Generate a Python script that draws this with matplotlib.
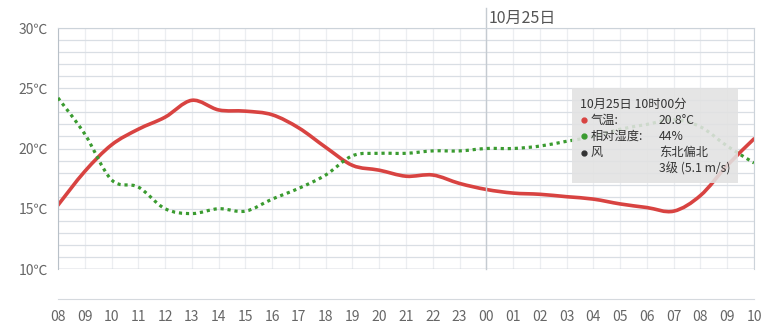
import matplotlib
matplotlib.use("Agg")
import matplotlib.pyplot as plt
from matplotlib.path import Path
from matplotlib.patches import PathPatch, Rectangle

plt.rcParams['font.family'] = ['Noto Sans CJK SC', 'DejaVu Sans']

hours = ["08", "09", "10", "11", "12", "13", "14", "15", "16", "17", "18", "19", "20",
         "21", "22", "23", "00", "01", "02", "03", "04", "05", "06", "07", "08", "09", "10"]
temp = [15.3, 18.1, 20.3, 21.6, 22.6, 24.0, 23.2, 23.1, 22.8, 21.7, 20.1, 18.6, 18.2,
        17.7, 17.8, 17.1, 16.6, 16.3, 16.2, 16.0, 15.8, 15.4, 15.1, 14.8, 16.1, 18.6, 20.8]
humidity = [71, 56, 37, 34, 25, 23, 25, 24, 29, 33.5, 39, 47, 48,
            48, 49, 49, 50, 50, 51, 53, 55, 58, 60, 62, 59, 51, 44]
y_ticks = [10, 15, 20, 25, 30]
day_label = "10月25日"
day_index = 16

tip_title = "10月25日 10时00分"
tip_rows = [("气温:", "20.8°C", "#d84341"),
            ("相对湿度:", "44%", "#3a9b30"),
            ("风", "东北偏北", "#333333"),
            ("", "3级 (5.1 m/s)", None)]


def spline(xs, ys):
    # cubic bezier through every point, catmull-rom style
    n = len(xs)
    verts = [(xs[0], ys[0])]
    codes = [Path.MOVETO]
    for i in range(n - 1):
        a, b = max(i - 1, 0), min(i + 2, n - 1)
        c1 = (xs[i] + (xs[i + 1] - xs[a]) / 6, ys[i] + (ys[i + 1] - ys[a]) / 6)
        c2 = (xs[i + 1] - (xs[b] - xs[i]) / 6, ys[i + 1] - (ys[b] - ys[i]) / 6)
        verts += [c1, c2, (xs[i + 1], ys[i + 1])]
        codes += [Path.CURVE4] * 3
    return Path(verts, codes)


fig = plt.figure(figsize=(7.72, 3.28), dpi=100)
ax = fig.add_axes([58 / 772, 59 / 328, 696 / 772, 241 / 328])
x = list(range(len(hours)))

ax.set_xlim(0, len(hours) - 1)
ax.set_ylim(10, 30)
ax.set_xticks(x)
ax.set_xticklabels(hours)
ax.set_yticks(y_ticks)
ax.set_yticklabels([f"{v}℃" for v in y_ticks])
ax.set_yticks(range(10, 31), minor=True)
ax.tick_params(length=0, colors="#666666", labelsize=10)
ax.tick_params(axis="y", pad=7)
ax.tick_params(axis="x", pad=8)
ax.tick_params(which="minor", length=0)

ax.grid(axis="y", which="both", color="#d9dee4", lw=0.9)
ax.grid(axis="x", color="#eceef1", lw=0.9)
ax.set_axisbelow(True)
for s in ["top", "right", "left"]:
    ax.spines[s].set_color("#ccd3da")
ax.spines["left"].set_color("#b8c0c8")
ax.spines["bottom"].set_position(("outward", 21.6))
ax.spines["bottom"].set_color("#d5d9de")
ax.axhline(10, color="#b8c0c8", lw=1)

ax.axvline(day_index, ymin=0, ymax=1.083, color="#c5cbd1", lw=1, clip_on=False)
ax.text(day_index + 0.1, 1.041, day_label, transform=ax.get_xaxis_transform(),
        fontsize=11.5, color="#555555", va="center", ha="left")

ax.add_patch(PathPatch(spline(x, temp), fill=False, edgecolor="#d84341", lw=2.6,
                       capstyle="round", joinstyle="round"))

ax2 = ax.twinx()
ax2.set_ylim(0, 100)
ax2.axis("off")
ax2.add_patch(PathPatch(spline(x, humidity), fill=False, edgecolor="#3a9b30", lw=2.3,
                        linestyle=(0, (1, 1.2)), capstyle="butt"))


# tooltip, placed in pixel positions of the picture
def px(xp, yp):
    return (xp - 58) / 696, (269 - yp) / 241


x0, y0 = px(572, 183)
x1, y1 = px(738, 88)
ax2.add_patch(Rectangle((x0, y0), x1 - x0, y1 - y0, transform=ax2.transAxes,
                        facecolor="#e2e2e2", edgecolor="none", alpha=0.88, zorder=10))
tx, ty = px(580, 104)
ax2.text(tx, ty, tip_title, transform=ax2.transAxes, fontsize=8.8, color="#333333",
         va="center", zorder=11)
for i, (label, value, color) in enumerate(tip_rows):
    yp = 120 + i * 16.4
    if color:
        dx, dy = px(584, yp)
        ax2.plot(dx, dy, "o", ms=3.5, color=color, transform=ax2.transAxes, zorder=11,
                 clip_on=False)
        lx, ly = px(591, yp)
        ax2.text(lx, ly, label, transform=ax2.transAxes, fontsize=8.8, color="#333333",
                 va="center", zorder=11)
    vx, vy = px(659, yp)
    ax2.text(vx, vy, value, transform=ax2.transAxes, fontsize=8.8, color="#333333",
             va="center", zorder=11)

fig.savefig("out.png", dpi=100)
